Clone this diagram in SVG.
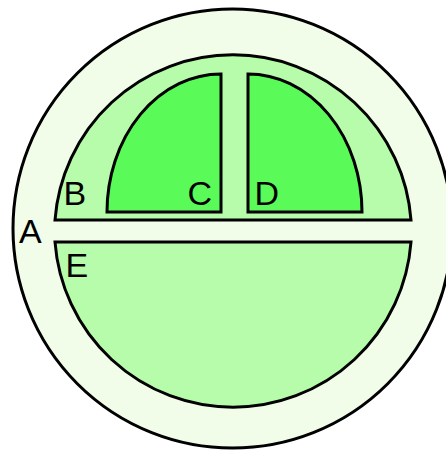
<svg xmlns="http://www.w3.org/2000/svg" width="446" height="450" viewBox="0 0 446 450">
<style>
.s{stroke:#000;stroke-width:3;stroke-linejoin:miter}
.a{fill:#f2fde9}
.m{fill:#b6fcab}
.i{fill:#5afa58}
text{font-family:"Liberation Sans",Arial,sans-serif;font-size:34px;fill:#000}
</style>
<g id="A"><circle class="s a" cx="232.5" cy="228.5" r="219.5"/><text x="19" y="242.5">A</text></g>
<g id="B"><path class="s m" d="M55,220 A178.5,178.5 0 0 1 411,220 Z"/><text x="63.5" y="205">B</text></g>
<g id="C"><path class="s i" d="M221,74 A114,138 0 0 0 107,212 L221,212 Z"/><text x="187.5" y="205">C</text></g>
<g id="D"><path class="s i" d="M248,74 A114,138 0 0 1 362,212 L248,212 Z"/><text x="254.5" y="205">D</text></g>
<g id="E"><path class="s m" d="M55,242 A178.5,178.5 0 0 0 411,242 Z"/><text x="65.5" y="277">E</text></g>
<g id="connectors"></g>
</svg>
